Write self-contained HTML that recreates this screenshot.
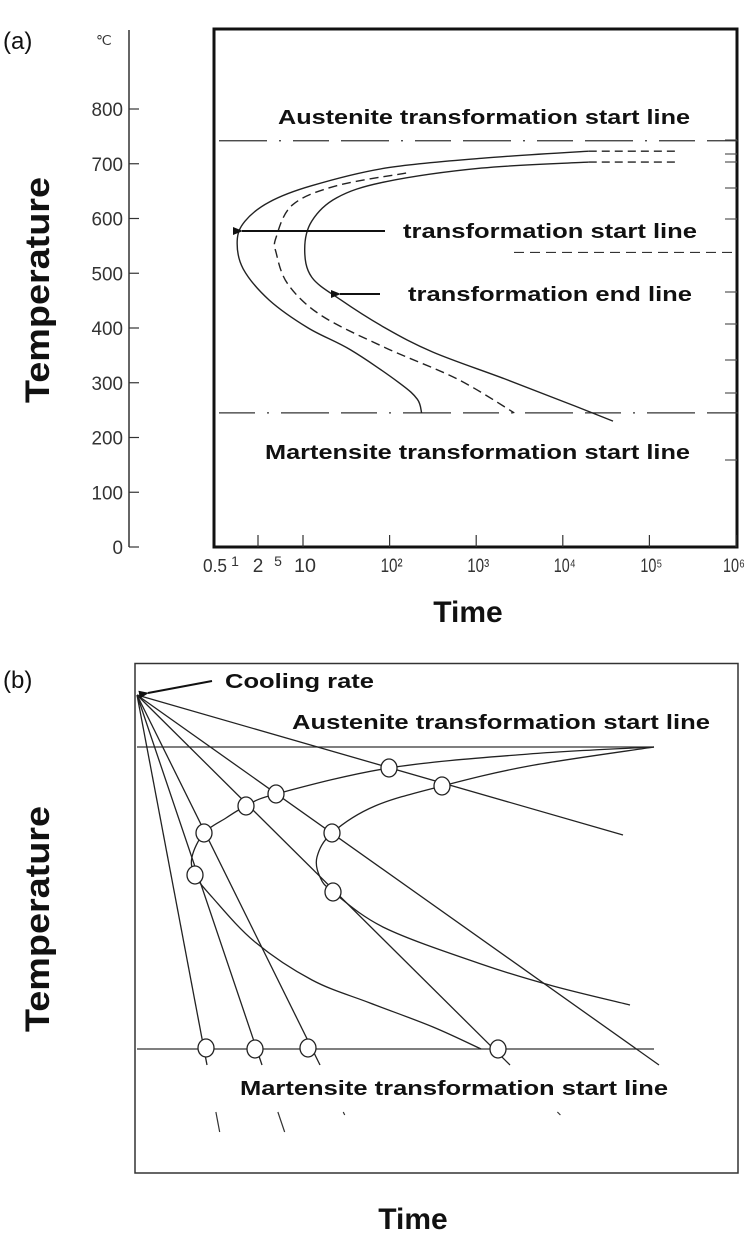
<!DOCTYPE html>
<html><head><meta charset="utf-8"><style>
body{margin:0;background:#fff;}
svg{display:block;font-family:"Liberation Sans",sans-serif;}
.bold{font-weight:bold;fill:#111;}
</style></head><body>
<svg id="fig" width="747" height="1240" viewBox="0 0 747 1240" xmlns="http://www.w3.org/2000/svg">
<rect width="747" height="1240" fill="#fff"/>
<g id="pa"></g>
<g id="pb"></g>
</svg>
<script>
// ---------- Panel (a) data ----------
const tempTicks = [0,100,200,300,400,500,600,700,800];
const timeTickLabels = ["10","10²","10³","10⁴","10⁵","10⁶"];
const timeTickLog = [1,2,3,4,5,6];
const startLog  = [4.30,3.06,1.95,1.10,0.61,0.33,0.24,0.31,0.61,1.06,1.55,2.11,2.32,2.37];
const startTemp = [723,710,692,660,630,595,559,508,451,400,360,300,270,245];
const midLog  = [2.19,1.39,0.88,0.69,0.69,0.83,1.22,1.95,2.78,3.44];
const midTemp = [683,660,625,566,537,479,422,364,307,245];
const endLog  = [4.30,3.06,1.95,1.39,1.10,1.02,1.10,1.44,1.95,2.50,3.33,4.05,4.58];
const endTemp = [703,692,667,638,595,544,493,451,400,356,307,263,230];
const extLog = [4.30,5.30];
const austeniteTemp = 742;
const martensiteTemp = 245;
const bainiteTemp = 538;

// ---------- Panel (b) data (time units / temperature units) ----------
const originT = 2, originTemp = 478;
const coolEndT = [72,127,185,375,524,488];
const coolEndTemp = [108,108,108,108,108,338];
const bAustTemp = 426, bMartTemp = 124, bLineEndT = 519;
const bStartT    = [519,394,254,141,111,91,69,57,60,77,120,177,235,298,346];
const bStartTemp = [426,419,405,379,367,355,340,316,298,276,231,193,170,146,124];
const bEndT    = [519,394,307,240,197,182,185,198,250,346,418,495];
const bEndTemp = [426,407,387,367,340,316,296,281,245,209,187,168];
const circT    = [254,307,141,111,69,197,60,198,71,120,173,363];
const circTemp = [405,387,379,367,340,340,298,281,125,124,125,124];

const NS="http://www.w3.org/2000/svg";
function mk(parent,tag,attrs){const e=document.createElementNS(NS,tag);for(const k in attrs)e.setAttribute(k,attrs[k]);parent.appendChild(e);return e;}
function smooth(pts){
  let d="M"+pts[0][0].toFixed(1)+","+pts[0][1].toFixed(1);
  for(let i=0;i<pts.length-1;i++){
    const p0=pts[i-1]||pts[i],p1=pts[i],p2=pts[i+1],p3=pts[i+2]||p2;
    const c1=[p1[0]+(p2[0]-p0[0])/6,p1[1]+(p2[1]-p0[1])/6];
    const c2=[p2[0]-(p3[0]-p1[0])/6,p2[1]-(p3[1]-p1[1])/6];
    d+=" C"+c1[0].toFixed(1)+","+c1[1].toFixed(1)+" "+c2[0].toFixed(1)+","+c2[1].toFixed(1)+" "+p2[0].toFixed(1)+","+p2[1].toFixed(1);
  }
  return d;
}
// ===== Panel a =====
const A=document.getElementById('pa');
const ax=lg=>303+(lg-1)*86.6;
const ay=T=>547-T*0.5475;
let e;
e=mk(A,'rect',{x:214,y:29,width:523,height:518,fill:'none',stroke:'#111','stroke-width':3});


e=mk(A,'line',{x1:129,y1:30,x2:129,y2:547,stroke:'#333','stroke-width':1.5});


tempTicks.forEach(t=>{
  const y=ay(t);
  const l=mk(A,'line',{x1:129,y1:y,x2:139,y2:y,stroke:'#333','stroke-width':1.2});
  
  
  const s=String(t);
  const tx=mk(A,'text',{x:123,y:y+7,'text-anchor':'end','font-size':19,fill:'#333',textLength:s.length*10.5,lengthAdjust:'spacingAndGlyphs'});
  tx.textContent=s;
  
  
});
e=mk(A,'text',{x:96,y:45,'font-size':14,fill:'#333'});e.textContent='℃';


// x ticks
timeTickLog.forEach((lg,i)=>{
  const x=ax(lg);
  const l=mk(A,'line',{x1:x,y1:535,x2:x,y2:547,stroke:'#333','stroke-width':1.2});
  
  
  const lab=timeTickLabels[i];
  const tx=mk(A,'text',{x:x+(i==5?-2:2),y:572,'text-anchor':'middle','font-size':19,fill:'#333',textLength:22,lengthAdjust:'spacingAndGlyphs'});
  tx.textContent=lab;
  
  
});
[[258,'2'],[235,'1'],[278,'5']].forEach(([x,s])=>{
  if(s==='2'){const l=mk(A,'line',{x1:x,y1:535,x2:x,y2:547,stroke:'#333','stroke-width':1.2});}
  const tx=mk(A,'text',{x:x,y:s==='2'?572:566,'text-anchor':'middle','font-size':s==='2'?19:14,fill:'#333'});tx.textContent=s;
  
  
});
e=mk(A,'text',{x:215,y:572,'text-anchor':'middle','font-size':18,fill:'#333',textLength:24,lengthAdjust:'spacingAndGlyphs'});e.textContent='0.5';


// right edge small ticks
[140,154,162,188,219,292,324,360,393,460].forEach(y=>{
  const l=mk(A,'line',{x1:725,y1:y,x2:737,y2:y,stroke:'#555','stroke-width':1.2});
  
  
});
// horizontal reference lines
e=mk(A,'line',{x1:219,y1:ay(austeniteTemp),x2:738,y2:ay(austeniteTemp),stroke:'#333','stroke-width':1.2,'stroke-dasharray':'48 12 2 12 36 12'});


e=mk(A,'line',{x1:219,y1:ay(martensiteTemp),x2:738,y2:ay(martensiteTemp),stroke:'#333','stroke-width':1.2,'stroke-dasharray':'36 12 2 12 48 12'});


e=mk(A,'line',{x1:514,y1:ay(bainiteTemp),x2:738,y2:ay(bainiteTemp),stroke:'#333','stroke-width':1.2,'stroke-dasharray':'10 6'});


// curves
function curve(lgs,ts,name,dash){
  const pts=lgs.map((l,i)=>[ax(l),ay(ts[i])]);
  const p=mk(A,'path',{d:smooth(pts),fill:'none',stroke:'#222','stroke-width':1.4});
  if(dash)p.setAttribute('stroke-dasharray',dash);
  
  
}
curve(startLog,startTemp,'transformation-start-curve');
curve(midLog,midTemp,'transformation-mid-curve','9 5');
curve(endLog,endTemp,'transformation-end-curve');
curve(extLog,[startTemp[0],startTemp[0]],'start-curve-extension','8 5');
curve(extLog,[endTemp[0],endTemp[0]],'end-curve-extension','8 5');
// arrows
mk(A,'defs',{}).innerHTML='<marker id="ah" markerWidth="10" markerHeight="8" refX="1" refY="4" orient="auto" markerUnits="userSpaceOnUse"><path d="M10,0 L0,4 L10,8 z" fill="#111"/></marker>';
e=mk(A,'line',{x1:385,y1:231,x2:242,y2:231,stroke:'#111','stroke-width':2,'marker-end':'url(#ah)'});


e=mk(A,'line',{x1:380,y1:294,x2:340,y2:294,stroke:'#111','stroke-width':2,'marker-end':'url(#ah)'});


function label(P,x,y,s,w,size,name,anchor){
  const t=mk(P,'text',{x:x,y:y,'font-size':size,'class':'bold',textLength:w,lengthAdjust:'spacingAndGlyphs'});
  if(anchor)t.setAttribute('text-anchor',anchor);
  t.textContent=s;
  
  
  return t;
}
label(A,278,124,'Austenite transformation start line',412,20,'austenite-label-a');
label(A,403,238,'transformation start line',294,20,'start-line-label');
label(A,408,301,'transformation end line',284,20,'end-line-label');
label(A,265,459,'Martensite transformation start line',425,20,'martensite-label-a');
e=mk(A,'text',{x:3,y:49,'font-size':24,fill:'#111'});e.textContent='(a)';


e=mk(A,'text',{x:0,y:0,'font-size':34,'class':'bold','text-anchor':'middle',textLength:226,lengthAdjust:'spacingAndGlyphs',transform:'translate(49,290) rotate(-90)'});e.textContent='Temperature';


e=mk(A,'text',{x:468,y:622,'font-size':30,'class':'bold','text-anchor':'middle'});e.textContent='Time';



// ===== Panel b =====
const B=document.getElementById('pb');
const bx=t=>135+t;
const by=T=>1173-T;
e=mk(B,'rect',{x:135,y:663.5,width:603,height:509.5,fill:'none',stroke:'#333','stroke-width':1.5});


e=mk(B,'line',{x1:bx(originT),y1:by(bAustTemp),x2:bx(bLineEndT),y2:by(bAustTemp),stroke:'#333','stroke-width':1.3});


e=mk(B,'line',{x1:bx(originT),y1:by(bMartTemp),x2:bx(bLineEndT),y2:by(bMartTemp),stroke:'#333','stroke-width':1.3});


coolEndT.forEach((t,i)=>{
  const l=mk(B,'line',{x1:bx(originT),y1:by(originTemp),x2:bx(t),y2:by(coolEndTemp[i]),stroke:'#222','stroke-width':1.3});
  
  
  if(i<4){
    const dx=(t-originT)/(originTemp-coolEndTemp[i]);
    const T1=coolEndTemp[i]-47, T2=coolEndTemp[i]-(i<2?67:50);
    const f=mk(B,'line',{x1:bx(originT+dx*(originTemp-T1)),y1:by(T1),x2:bx(originT+dx*(originTemp-T2)),y2:by(T2),stroke:'#333','stroke-width':1.2});
    
    
  }
});
function bcurve(ts,Ts,name){
  const p=mk(B,'path',{d:smooth(ts.map((t,i)=>[bx(t),by(Ts[i])])),fill:'none',stroke:'#222','stroke-width':1.3});
  
  
}
bcurve(bStartT,bStartTemp,'transformation-start-curve-b');
bcurve(bEndT,bEndTemp,'transformation-end-curve-b');
circT.forEach((t,i)=>{
  const c=mk(B,'ellipse',{cx:bx(t),cy:by(circTemp[i]),rx:8,ry:9,fill:'#fff',stroke:'#222','stroke-width':1.3});
  
  
});
e=mk(B,'line',{x1:212,y1:681,x2:148,y2:693,stroke:'#111','stroke-width':2,'marker-end':'url(#ah)'});


label(B,225,688,'Cooling rate',149,20,'cooling-rate-label');
label(B,292,729,'Austenite transformation start line',418,20,'austenite-label-b');
label(B,240,1095,'Martensite transformation start line',428,20,'martensite-label-b');
e=mk(B,'text',{x:3,y:688,'font-size':24,fill:'#111'});e.textContent='(b)';


e=mk(B,'text',{x:0,y:0,'font-size':34,'class':'bold','text-anchor':'middle',textLength:226,lengthAdjust:'spacingAndGlyphs',transform:'translate(49,919) rotate(-90)'});e.textContent='Temperature';


e=mk(B,'text',{x:413,y:1229,'font-size':30,'class':'bold','text-anchor':'middle'});e.textContent='Time';


</script>
</body></html>
